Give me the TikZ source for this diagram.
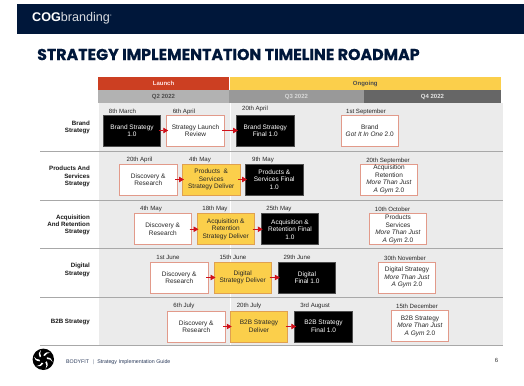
\documentclass[tikz,border=0pt]{standalone}
\usepackage{fontspec}
\setmainfont{Liberation Sans}
\newfontfamily\titlefont[BoldFeatures={FakeBold=0.5}]{Poppins}
\usetikzlibrary{arrows.meta}
\definecolor{navy}{HTML}{00173A}
\definecolor{bandred}{HTML}{CC3F22}
\definecolor{bandyel}{HTML}{FBCF4B}
\definecolor{paneg}{HTML}{EBEBEB}
\definecolor{rule}{HTML}{A8A8A8}
\definecolor{salmon}{HTML}{E29A8A}
\definecolor{orangeedge}{HTML}{E0A050}
\definecolor{arrowred}{HTML}{D0101A}
\definecolor{foot}{HTML}{2A3A5A}
\tikzset{
  x=1pt,y=-1pt,
  txt/.style={font=\fontsize{6.5}{7.5}\selectfont,align=center,inner sep=0pt,text=black!85},
  stagebox/.style={txt,minimum width=57.5pt,minimum height=31pt,outer sep=0pt,line width=0.8pt},
  whitebox/.style={stagebox,draw=salmon,fill=white},
  yellowbox/.style={stagebox,draw=orangeedge,fill=bandyel},
  blackbox/.style={stagebox,draw=black!70,fill=black,text=white},
  datelab/.style={font=\fontsize{6.1}{7}\selectfont,inner sep=0pt,text=black!85},
  rowlab/.style={font=\fontsize{6.2}{7.4}\selectfont\bfseries,align=right,anchor=east,inner sep=0pt,text=black!90},
  bandlab/.style={font=\fontsize{6}{7}\selectfont\bfseries,inner sep=0pt},
  flow/.style={draw=arrowred,fill=arrowred,line width=0.9pt,-{Triangle[length=5pt,width=5.5pt]},shorten <=-2pt,shorten >=-1.5pt},
  rowrule/.style={draw=rule,line width=0.7pt}
}
\begin{document}
\begin{tikzpicture}
\useasboundingbox (0,0) rectangle (524,385);
\fill[white] (0,0) rectangle (524,385);
% header
\fill[navy] (17,4.3) rectangle (524,34);
\node[anchor=west,inner sep=0pt,text=white] (brandname) at (32,18) {\fontsize{12.6}{13}\selectfont\bfseries COG\mdseries\color{white!85!navy}branding\raisebox{5pt}{\fontsize{2.5}{3}\selectfont ®}};
% title
\node[anchor=west,inner sep=0pt,text=navy] (title) at (37,54.5) {\titlefont\fontsize{15.8}{18}\selectfont\bfseries STRATEGY IMPLEMENTATION TIMELINE ROADMAP};
% panel
\fill[paneg] (99,103) rectangle (503,345);
\draw[white,line width=0.8pt] (230.5,103) -- (230.5,345);
% bands
\node[fill=bandred,minimum width=131pt,minimum height=13.5pt,inner sep=0pt,bandlab,text=white!90!red] (launch) at (163.5,83.5) {Launch};
\node[fill=bandyel,minimum width=271.5pt,minimum height=13.5pt,inner sep=0pt,bandlab,text=black!70] (ongoing) at (365.25,83.5) {Ongoing};
\node[fill=black!30,minimum width=131pt,minimum height=13pt,inner sep=0pt,bandlab,text=black!70] (q2) at (163.5,96.5) {Q2 2022};
\node[fill=black!40,minimum width=135pt,minimum height=13pt,inner sep=0pt,bandlab,text=black!15] (q3) at (296.5,96.5) {Q3 2022};
\node[fill=black!60,minimum width=137pt,minimum height=13pt,inner sep=0pt,bandlab,text=black!10] (q4) at (432.5,96.5) {Q4 2022};
% rules
\foreach \yy in {151,200,248,297,345} \draw[rowrule] (40,\yy) -- (503,\yy);
% row labels
\node[rowlab] (r1) at (90,127.5) {Brand\\Strategy};
\node[rowlab] (r2) at (90,176.5) {Products And\\Services\\Strategy};
\node[rowlab] (r3) at (90,225) {Acquisition\\And Retention\\Strategy};
\node[rowlab] (r4) at (90,270) {Digital\\Strategy};
\node[rowlab] (r5) at (90,322) {B2B Strategy};
% row 1
\node[blackbox] (a1) at (132,130.5) {Brand Strategy\\1.0};
\node[whitebox] (b1) at (195.5,130.5) {Strategy Launch\\Review};
\node[blackbox] (c1) at (265.25,130.5) {Brand Strategy\\Final 1.0};
\node[whitebox] (d1) at (369.75,130.5) {Brand\\\textit{Got It In One} 2.0};
% row 2
\node[whitebox] (a2) at (148.25,179.5) {Discovery \&\\Research};
\node[yellowbox] (b2) at (211.25,179.5) {Products \ \&\\Services\\Strategy Deliver};
\node[blackbox] (c2) at (274.25,179.5) {Products \&\\Services Final\\1.0};
\node[whitebox] (d2) at (389,179.5) {Acquisition\\Retention\\\textit{More Than Just}\\\textit{A Gym} 2.0};
% row 3
\node[whitebox] (a3) at (162.75,229.25) {Discovery \&\\Research};
\node[yellowbox] (b3) at (225.75,229.25) {Acquisition \&\\Retention\\Strategy Deliver};
\node[blackbox] (c3) at (290,229.25) {Acquisition \&\\Retention Final\\1.0};
\node[whitebox] (d3) at (398,229.25) {Products\\Services\\\textit{More Than Just}\\\textit{A Gym} 2.0};
% row 4
\node[whitebox] (a4) at (179.25,277.5) {Discovery \&\\Research};
\node[yellowbox] (b4) at (242.75,277.5) {Digital\\Strategy Deliver};
\node[blackbox] (c4) at (307,277.5) {Digital\\Final 1.0};
\node[whitebox] (d4) at (407,277.5) {Digital Strategy\\\textit{More Than Just}\\\textit{A Gym} 2.0};
% row 5
\node[whitebox] (a5) at (196.25,326.5) {Discovery \&\\Research};
\node[yellowbox] (b5) at (259,326.5) {B2B Strategy\\Deliver};
\node[blackbox] (c5) at (323.5,326.5) {B2B Strategy\\Final 1.0};
\node[whitebox] (d5) at (420,326) {B2B Strategy\\\textit{More Than Just}\\\textit{A Gym} 2.0};
% arrows
\foreach \r in {1,...,5}{
  \draw[flow] (a\r.east) -- (b\r.west);
  \draw[flow] (b\r.east) -- (c\r.west);
}
% dates
\node[datelab] (t1a) at (122.5,111.5) {8th March};
\node[datelab] (t1b) at (184,111.5) {6th April};
\node[datelab] (t1c) at (255,109) {20th April};
\node[datelab] (t1d) at (366,111.5) {1st September};
\node[datelab] (t2a) at (139.5,159.5) {20th April};
\node[datelab] (t2b) at (200,159.5) {4th May};
\node[datelab] (t2c) at (263,159.5) {9th May};
\node[datelab] (t2d) at (388,160.5) {20th September};
\node[datelab] (t3a) at (151,208.5) {4th May};
\node[datelab] (t3b) at (215,208.5) {18th May};
\node[datelab] (t3c) at (279,208.5) {25th May};
\node[datelab] (t3d) at (392.5,209.5) {10th October};
\node[datelab] (t4a) at (168,257.5) {1st June};
\node[datelab] (t4b) at (233,257.5) {15th June};
\node[datelab] (t4c) at (297,257.5) {29th June};
\node[datelab] (t4d) at (405,258) {30th November};
\node[datelab] (t5a) at (184,305.5) {6th July};
\node[datelab] (t5b) at (249,305.5) {20th July};
\node[datelab] (t5c) at (315,305.5) {3rd August};
\node[datelab] (t5d) at (417,306.5) {15th December};
% footer
\fill[black] (43.3,359.3) circle (10.7);
\foreach \a in {0,60,...,300}{
  \fill[white,rotate around={\a:(43.3,359.3)}] (43.3,355.3) .. controls (45.5,352.2) and (47.5,351.5) .. (50.2,352.6) .. controls (47.8,352.8) and (45.8,353.8) .. (44.8,356) -- cycle;
}
\node[anchor=west,inner sep=0pt,text=foot,font=\fontsize{5.3}{6}\selectfont] (foottext) at (66,362) {BODYFIT \ $|$ \ Strategy Implementation Guide};
\node[inner sep=0pt,text=black!80,font=\fontsize{6}{7}\selectfont] (pagenum) at (496.5,360.5) {6};
\end{tikzpicture}
\end{document}
